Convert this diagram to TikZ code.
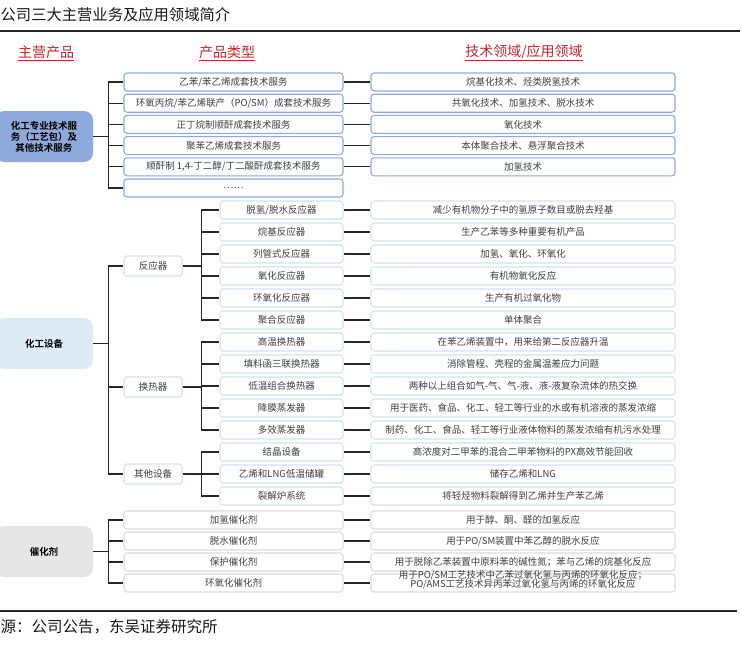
\documentclass[tikz,border=0pt]{standalone}
\usepackage{fontspec}
\setmainfont{Noto Sans CJK SC}[BoldFont={Noto Sans CJK SC Bold}]
\usetikzlibrary{positioning}
\definecolor{svcblue}{HTML}{8EA9DB}
\definecolor{eqblue}{HTML}{DDEBF7}
\definecolor{eqedge}{HTML}{D3E2F4}
\definecolor{catgray}{HTML}{E7E6E6}
\definecolor{catedge}{HTML}{DDDDDD}
\definecolor{headred}{HTML}{C0282D}
\definecolor{boxtext}{HTML}{3F3F3F}
\definecolor{linkdark}{HTML}{262626}
\newcommand{\headline}[1]{\underline{#1}}

\begin{document}
\begin{tikzpicture}[x=1pt, y=-1pt,
    topbox/.style={rounded corners=9pt, minimum width=98pt, minimum height=51pt,
      inner sep=2pt, align=center, text=black,
      font=\fontsize{9.5}{11}\selectfont\bfseries},
    itembox/.style={draw, rounded corners=3pt, line width=1.1pt, fill=white,
      minimum height=18pt, inner sep=1pt, align=center, text=boxtext,
      font=\fontsize{9.5}{11.5}\selectfont},
    link/.style={draw=linkdark, line width=1.2pt},
    headtxt/.style={text=headred, inner sep=0pt, font=\fontsize{14}{14}\selectfont}]
  \fill[white] (0,0) rectangle (742,667);
  \useasboundingbox (0,0) rectangle (742,667);

  % title and headers
  \node[anchor=west, inner sep=0pt, text=black!90, font=\fontsize{15.3}{16}\selectfont] (title) at (0.5,15) {公司三大主营业务及应用领域简介};
  \draw[line width=1.5pt, black!85] (0,31) -- (740,31);
  \node[headtxt] (hmain) at (46,53) {\headline{主营产品}};
  \node[headtxt] (htype) at (227,53) {\headline{产品类型}};
  \node[headtxt] (hfield) at (524,53) {\headline{技术领域/应用领域}};

  % technical services
  \node[topbox, fill=svcblue] (g1) at (44,136.5) {化工专业技术服\\务（工艺包）及\\其他技术服务};
  \foreach \lbl [count=\i] in {乙苯/苯乙烯成套技术服务, 环氧丙烷/苯乙烯联产（PO/SM）成套技术服务,
      正丁烷制顺酐成套技术服务, 聚苯乙烯成套技术服务,
      {顺酐制 1,4-丁二醇/丁二酸酐成套技术服务}, ……} {
    \node[itembox, draw=svcblue, minimum width=219pt] (svc\i) at (233.5,{60.8+21.2*\i}) {\lbl};
    \draw[link] (g1.east) -- ++(15,0) |- (svc\i.west);
  }
  \foreach \lbl [count=\i] in {烷基化技术、烃类脱氢技术, 共氧化技术、加氢技术、脱水技术,
      氧化技术, 本体聚合技术、悬浮聚合技术, 加氢技术} {
    \node[itembox, draw=svcblue, minimum width=304pt] (svcuse\i) at (523,{60.8+21.2*\i}) {\lbl};
    \draw[link] (svc\i.east) -- (svcuse\i.west);
  }

  % equipment
  \node[topbox, fill=eqblue] (g2) at (44,343.5) {化工设备};
  \node[itembox, draw=eqedge, minimum width=58pt, minimum height=20pt] (rea) at (153,266) {反应器};
  \node[itembox, draw=eqedge, minimum width=58pt, minimum height=20pt] (hex) at (153,387) {换热器};
  \node[itembox, draw=eqedge, minimum width=58pt, minimum height=20pt] (oth) at (153,474) {其他设备};
  \foreach \n in {rea, hex, oth}
    \draw[link] (g2.east) -- ++(15,0) |- (\n.west);
  \foreach \lbl [count=\i] in {脱氢/脱水反应器, 烷基反应器, 列管式反应器, 氧化反应器,
      环氧化反应器, 聚合反应器, 高温换热器, 填料函三联换热器, 低温组合换热器,
      降膜蒸发器, 多效蒸发器, 结晶设备, 乙烯和LNG低温储罐, 裂解炉系统}
    \node[itembox, draw=eqedge, minimum width=123pt] (eq\i) at (281.5,{188+22*\i}) {\lbl};
  \foreach \i in {1,...,6}
    \draw[link] (rea.east) -- ++(19,0) |- (eq\i.west);
  \foreach \i in {7,...,11}
    \draw[link] (hex.east) -- ++(19,0) |- (eq\i.west);
  \foreach \i in {12,13,14}
    \draw[link] (oth.east) -- ++(19,0) |- (eq\i.west);
  \foreach \lbl [count=\i] in {减少有机物分子中的氢原子数目或脱去羟基, 生产乙苯等多种重要有机产品,
      加氢、氧化、环氧化, 有机物氧化反应, 生产有机过氧化物, 单体聚合,
      在苯乙烯装置中，用来给第二反应器升温, 消除管程、壳程的金属温差应力问题,
      两种以上组合如气-气、气-液、液-液复杂流体的热交换,
      用于医药、食品、化工、轻工等行业的水或有机溶液的蒸发浓缩,
      制药、化工、食品、轻工等行业液体物料的蒸发浓缩有机污水处理,
      高浓度对二甲苯的混合二甲苯物料的PX高效节能回收, 储存乙烯和LNG,
      将轻烃物料裂解得到乙烯并生产苯乙烯} {
    \node[itembox, draw=eqedge, minimum width=304pt] (equse\i) at (523,{188+22*\i}) {\lbl};
    \draw[link] (eq\i.east) -- (equse\i.west);
  }

  % catalysts
  \node[topbox, fill=catgray] (g3) at (44,551.5) {催化剂};
  \foreach \lbl [count=\i] in {加氢催化剂, 脱水催化剂, 保护催化剂, 环氧化催化剂} {
    \node[itembox, draw=catedge, minimum width=219pt] (cat\i) at (233.5,{499+21*\i}) {\lbl};
    \draw[link] (g3.east) -- ++(15,0) |- (cat\i.west);
  }
  \foreach \lbl [count=\i] in {用于醇、酮、醛的加氢反应, 用于PO/SM装置中苯乙醇的脱水反应,
      用于脱除乙苯装置中原料苯的碱性氮；苯与乙烯的烷基化反应,
      {\smash{\begin{tabular}{@{}c@{}}用于PO/SM工艺技术中乙苯过氧化氢与丙烯的环氧化反应；\\[-2pt]PO/AMS工艺技术异丙苯过氧化氢与丙烯的环氧化反应\end{tabular}}}} {
    \node[itembox, draw=catedge, minimum width=304pt] (catuse\i) at (523,{499+21*\i}) {\lbl};
    \draw[link] (cat\i.east) -- (catuse\i.west);
  }

  % source
  \draw[line width=1.5pt, black!85] (0,611) -- (737,611);
  \node[anchor=west, inner sep=0pt, text=black!90, font=\fontsize{15.5}{16}\selectfont] (src) at (0.5,627) {源：公司公告，东吴证券研究所};
\end{tikzpicture}
\end{document}
